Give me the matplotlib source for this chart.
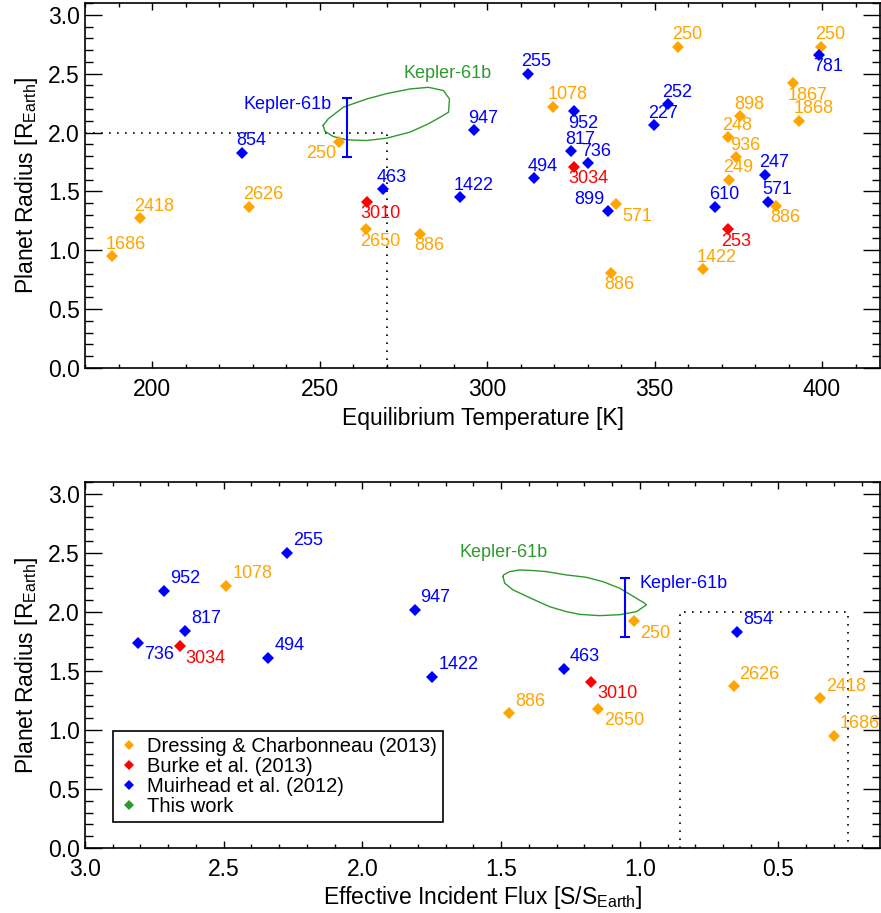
import matplotlib
matplotlib.use("Agg")
import matplotlib.pyplot as plt
from matplotlib.lines import Line2D
from matplotlib.ticker import MultipleLocator

plt.rcParams['font.family'] = ['Liberation Sans', 'DejaVu Sans']
plt.rcParams['mathtext.fontset'] = 'custom'
plt.rcParams['mathtext.rm'] = 'Liberation Sans'

ORANGE = '#FFA500'
RED = '#FF0000'
BLUE = '#0000FF'
GREEN = '#2E9A2E'

# ---- top panel: equilibrium temperature vs radius ----
dc_koi_t = ['1686', '2418', '2626', '250', '2650', '886', '1078', '571', '886', '250',
            '1422', '898', '248', '936', '249', '886', '1867', '1868', '250']
dc_teq = [188.0, 196.4, 229.1, 255.9, 263.9, 280.0, 319.8, 338.4, 336.9, 357.0,
          364.4, 375.5, 372.0, 374.3, 372.3, 386.2, 391.4, 393.2, 399.6]
dc_rad_t = [0.95, 1.27, 1.37, 1.92, 1.18, 1.14, 2.22, 1.39, 0.81, 2.73,
            0.84, 2.14, 1.96, 1.79, 1.60, 1.38, 2.42, 2.10, 2.73]
dc_pos_t = ['a', 'a', 'a', 'lb', 'b', 'b', 'a', 'rb', 'b', 'a',
            'a', 'a', 'a', 'a', 'a', 'b', 'b', 'a', 'a']

bk_koi_t = ['3010', '3034', '253']
bk_teq = [264.1, 326.1, 371.8]
bk_rad_t = [1.41, 1.71, 1.18]
bk_pos_t = ['b', 'b', 'b']

mu_koi_t = ['854', '463', '1422', '947', '255', '952', '817', '736', '494', '899',
            '252', '227', '610', '247', '571', '781']
mu_teq = [227.0, 268.9, 291.9, 296.1, 312.1, 326.1, 325.0, 330.0, 314.0, 336.0,
          354.1, 349.9, 368.1, 383.0, 384.0, 399.1]
mu_rad_t = [1.83, 1.52, 1.45, 2.02, 2.50, 2.18, 1.84, 1.74, 1.61, 1.33,
            2.24, 2.06, 1.37, 1.64, 1.41, 2.66]
mu_pos_t = ['a', 'a', 'a', 'a', 'a', 'b', 'a', 'a', 'a', 'la',
            'a', 'a', 'a', 'a', 'a', 'b']

# Kepler-61b (this work) contour in Teq-R
k61_teq = [251.1, 252.6, 257.1, 264.1, 270.0, 277.0, 282.5, 287.0, 288.8, 288.5,
           286.0, 282.5, 277.0, 270.0, 264.1, 258.1, 254.1, 251.6, 251.1]
k61_rad_t = [2.06, 2.116, 2.215, 2.285, 2.33, 2.37, 2.384, 2.356, 2.285, 2.172,
             2.13, 2.074, 2.003, 1.952, 1.932, 1.938, 1.966, 2.011, 2.06]
k61_mu_teq = 258.1
k61_mu_flux = 1.054
k61_mu_rad = 2.04
k61_mu_err = 0.25

# ---- bottom panel: incident flux vs radius ----
dc_koi_b = ['1078', '886', '2650', '250', '2626', '2418', '1686']
dc_flux = [2.490, 1.472, 1.151, 1.022, 0.662, 0.351, 0.301]
dc_rad_b = [2.22, 1.14, 1.18, 1.92, 1.37, 1.27, 0.95]
dc_pos_b = ['a', 'a', 'b', 'b', 'a', 'a', 'a']

bk_koi_b = ['3034', '3010']
bk_flux = [2.659, 1.175]
bk_rad_b = [1.71, 1.41]
bk_pos_b = ['b', 'b']

mu_koi_b = ['255', '952', '817', '736', '494', '947', '1422', '463', '854']
mu_flux = [2.272, 2.715, 2.640, 2.809, 2.339, 1.812, 1.748, 1.273, 0.650]
mu_rad_b = [2.50, 2.18, 1.84, 1.74, 1.61, 2.02, 1.45, 1.52, 1.83]
mu_pos_b = ['a', 'a', 'a', 'b', 'a', 'a', 'a', 'a', 'a']

k61_flux = [1.493, 1.487, 1.457, 1.397, 1.325, 1.265, 1.217, 1.145, 1.072, 1.012,
            0.976, 0.982, 1.012, 1.072, 1.133, 1.193, 1.265, 1.337, 1.385, 1.433,
            1.469, 1.491, 1.493]
k61_rad_b = [2.299, 2.243, 2.186, 2.120, 2.044, 2.002, 1.979, 1.968, 1.976, 2.002,
             2.059, 2.073, 2.115, 2.200, 2.256, 2.293, 2.313, 2.341, 2.350, 2.355,
             2.341, 2.313, 2.299]

teq_hz = 270.0
rad_hz = 2.0
flux_hz = [0.855, 0.25]

legend_names = ['Dressing & Charbonneau (2013)', 'Burke et al. (2013)',
                'Muirhead et al. (2012)', 'This work']


def label_points(ax, xs, ys, names, pos, color, dx0):
    offs = {'a': (dx0, 12), 'b': (dx0, -12), 'la': (-33, 12),
            'lb': (-33, -12), 'rb': (7, -12)}
    for x, y, n, p in zip(xs, ys, names, pos):
        ax.annotate(n, (x, y), xytext=offs[p], textcoords='offset pixels',
                    ha='left', va='center', color=color, fontsize=13)


def style_axis(ax, xmaj, xmin):
    ax.set_ylim(0, 3.1)
    ax.yaxis.set_major_locator(MultipleLocator(0.5))
    ax.yaxis.set_minor_locator(MultipleLocator(0.1))
    ax.xaxis.set_major_locator(MultipleLocator(xmaj))
    ax.xaxis.set_minor_locator(MultipleLocator(xmin))
    ax.yaxis.set_major_formatter(matplotlib.ticker.FormatStrFormatter('%.1f'))
    ax.tick_params(which='both', direction='in', top=True, right=True, width=1,
                   labelsize=16.5)
    ax.tick_params(axis='x', which='major', length=5.3, pad=7.5)
    ax.tick_params(axis='x', which='minor', length=2.9)
    ax.tick_params(axis='y', which='major', length=12, pad=3.6)
    ax.tick_params(axis='y', which='minor', length=5.8)
    for s in ax.spines.values():
        s.set_linewidth(1.2)
    ax.set_ylabel(r'Planet Radius [R$_{\mathrm{Earth}}$]', fontsize=16.5, labelpad=6)


def scatter(ax, xs, ys, color):
    ax.plot(xs, ys, ls='none', marker='D', ms=6, mew=0, color=color, zorder=3)


fig = plt.figure(figsize=(8.81, 9.13), dpi=100)
ax1 = fig.add_axes([85 / 881, 1 - 368 / 913, 795 / 881, 365 / 913])
ax2 = fig.add_axes([85 / 881, 1 - 848 / 913, 795 / 881, 366 / 913])

dots = dict(color='black', lw=1.2, ls=(0, (1, 3.8)), zorder=1)

# top
ax1.set_xlim(180, 417.3)
style_axis(ax1, 50, 10)
ax1.plot([180, teq_hz], [rad_hz, rad_hz], **dots)
ax1.plot([teq_hz, teq_hz], [0, rad_hz], **dots)
ax1.plot(k61_teq, k61_rad_t, color=GREEN, lw=1)
ax1.errorbar([k61_mu_teq], [k61_mu_rad], yerr=[k61_mu_err], color=BLUE, lw=1.5,
             capsize=3.5, capthick=1.5, fmt='none')
ax1.annotate('Kepler-61b', (k61_mu_teq, 2.24), xytext=(-15, 0),
             textcoords='offset pixels', ha='right', va='center', color=BLUE,
             fontsize=13)
ax1.text(288.3, 2.50, 'Kepler-61b', ha='center', va='center', color=GREEN,
         fontsize=13)
scatter(ax1, dc_teq, dc_rad_t, ORANGE)
scatter(ax1, bk_teq, bk_rad_t, RED)
scatter(ax1, mu_teq, mu_rad_t, BLUE)
label_points(ax1, dc_teq, dc_rad_t, dc_koi_t, dc_pos_t, ORANGE, -6)
label_points(ax1, bk_teq, bk_rad_t, bk_koi_t, bk_pos_t, RED, -6)
label_points(ax1, mu_teq, mu_rad_t, mu_koi_t, mu_pos_t, BLUE, -6)
ax1.set_xlabel('Equilibrium Temperature [K]', fontsize=16.5, labelpad=4)

# bottom
ax2.set_xlim(3.0, 0.134)
style_axis(ax2, 0.5, 0.1)
ax2.plot([flux_hz[0], flux_hz[0], flux_hz[1], flux_hz[1]], [0, rad_hz, rad_hz, 0], **dots)
ax2.plot(k61_flux, k61_rad_b, color=GREEN, lw=1)
ax2.errorbar([k61_mu_flux], [k61_mu_rad], yerr=[k61_mu_err], color=BLUE, lw=1.5,
             capsize=3.5, capthick=1.5, fmt='none')
ax2.annotate('Kepler-61b', (k61_mu_flux, 2.24), xytext=(15, 0),
             textcoords='offset pixels', ha='left', va='center', color=BLUE,
             fontsize=13)
ax2.text(1.491, 2.50, 'Kepler-61b', ha='center', va='center', color=GREEN,
         fontsize=13)
scatter(ax2, dc_flux, dc_rad_b, ORANGE)
scatter(ax2, bk_flux, bk_rad_b, RED)
scatter(ax2, mu_flux, mu_rad_b, BLUE)
label_points(ax2, dc_flux, dc_rad_b, dc_koi_b, dc_pos_b, ORANGE, 6)
label_points(ax2, bk_flux, bk_rad_b, bk_koi_b, bk_pos_b, RED, 6)
label_points(ax2, mu_flux, mu_rad_b, mu_koi_b, mu_pos_b, BLUE, 6)
ax2.set_xlabel(r'Effective Incident Flux [S/S$_{\mathrm{Earth}}$]', fontsize=16.5,
               labelpad=2)

handles = [Line2D([], [], ls='none', marker='D', ms=4.8, mew=0, color=c)
           for c in (ORANGE, RED, BLUE, GREEN)]
leg = ax2.legend(handles, legend_names, loc='lower left',
                 bbox_to_anchor=(0.035, 0.070), borderaxespad=0, fontsize=14.5,
                 fancybox=False, framealpha=1, edgecolor='black',
                 handlelength=1.0, handletextpad=0.4, labelspacing=0.06,
                 borderpad=0.3)
leg.get_frame().set_linewidth(1.2)

fig.savefig('out.png', dpi=100)
